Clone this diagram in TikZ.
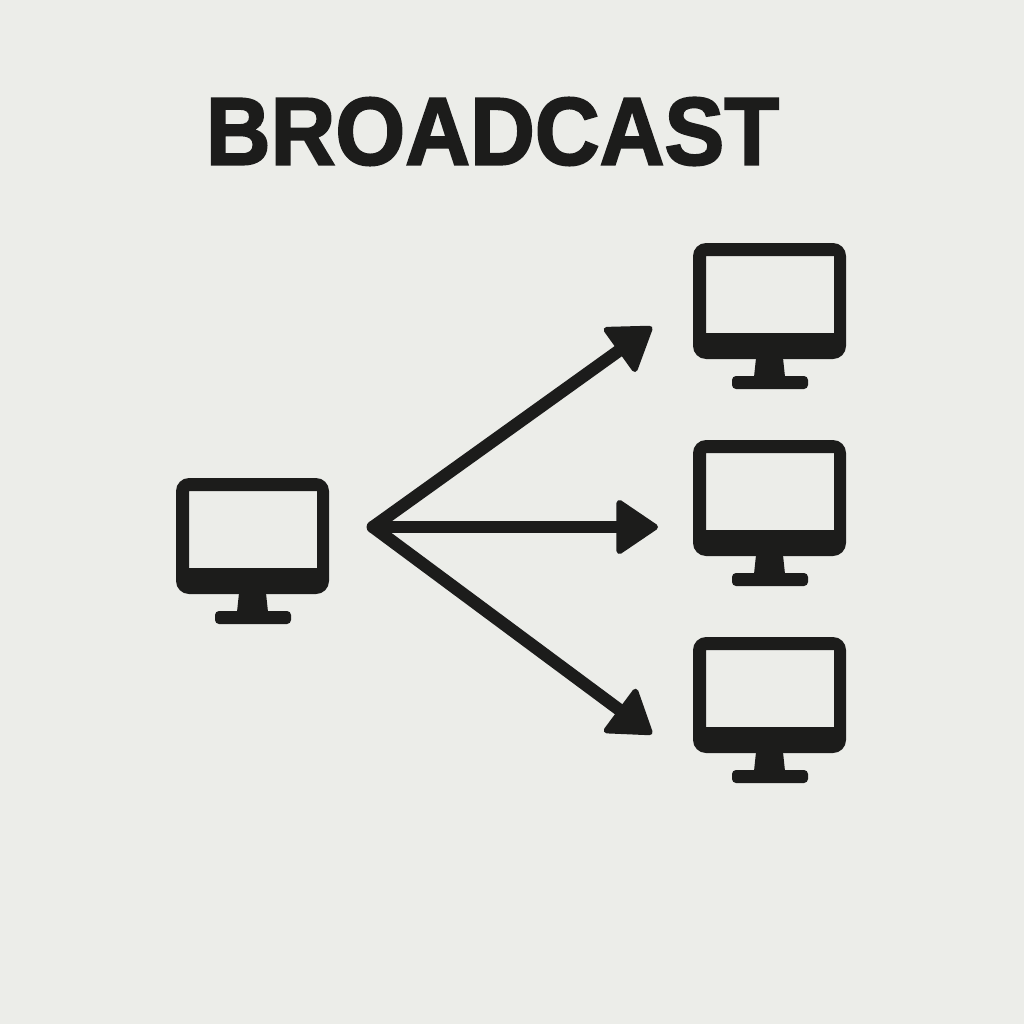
\documentclass[tikz,border=0pt]{standalone}
\usepackage{fontspec}
\setmainfont{Liberation Sans}
\newfontfamily\titlefont[UprightFont=* Bold,FakeBold=2.2]{Liberation Sans}
\usetikzlibrary{arrows.meta}
\definecolor{paper}{HTML}{ECEDE9}
\definecolor{ink}{HTML}{1C1C1B}
\tikzset{
  x=1pt,y=-1pt,
  titletext/.style={font=\titlefont\fontsize{96}{96}\selectfont,text=ink,inner sep=0pt,xscale=.935},
  broadcastarrow/.style={draw=ink,line width=12.5pt,line cap=round,
    -{Triangle[length=44pt,width=58pt,round,line width=6pt,color=ink,fill=ink]}},
  monitor/.pic={
    \fill[ink,even odd rule]
      [rounded corners=13pt] (0,0) rectangle (153,116)
      [sharp corners] (13,13) rectangle (141,90);
    \fill[ink] (63,115) -- (90,115) -- (92,134) -- (61,134) -- cycle;
    \fill[ink,rounded corners=4pt] (39,133) rectangle (115,146);
  }
}
\begin{document}
\begin{tikzpicture}
\useasboundingbox (0,0) rectangle (1024,1024);
\fill[paper] (0,0) rectangle (1024,1024);
\node[titletext] (title) at (492.5,131.5) {BROADCAST};
\pic (source) at (176,478) {monitor};
\pic (top) at (693,243) {monitor};
\pic (middle) at (693,440) {monitor};
\pic (bottom) at (693,637) {monitor};
\coordinate (hub) at (373,527);
\coordinate (toptip) at (652,327);
\coordinate (midtip) at (658,527);
\coordinate (bottip) at (652,734);
\draw[broadcastarrow] (hub) -- (toptip);
\draw[broadcastarrow] (hub) -- (midtip);
\draw[broadcastarrow] (hub) -- (bottip);
\end{tikzpicture}
\end{document}
